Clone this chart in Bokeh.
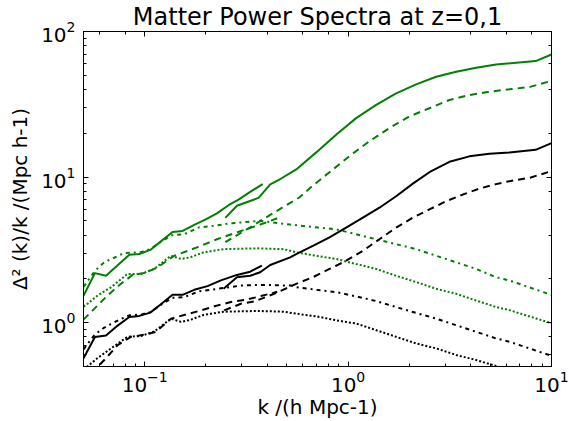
from bokeh.plotting import figure
from bokeh.models import Range1d, LogAxis, CustomJSTickFormatter, LogTicker, Title
from bokeh.embed import file_html
from bokeh.resources import INLINE

# ---------------- data ----------------
# z = 0 (green)
k_g_solid_a = [0.05, 0.0569, 0.0645, 0.084, 0.094, 0.1065, 0.1192, 0.137, 0.1535, 0.1772, 0.1984, 0.2265, 0.2582, 0.2892, 0.330, 0.380]
v_g_solid_a = [1.53, 2.19, 2.10, 2.93, 2.96, 3.16, 3.59, 4.20, 4.27, 4.74, 5.10, 5.63, 6.41, 7.01, 7.92, 8.95]

k_g_solid_b = [0.249, 0.284, 0.363, 0.414, 0.464, 0.556, 0.697, 0.873, 1.095, 1.374, 1.722, 2.16, 2.71, 3.40, 4.26, 5.34, 8.36, 10.0]
v_g_solid_b = [5.25, 6.35, 7.20, 8.92, 9.70, 11.28, 14.78, 19.55, 25.41, 31.31, 37.61, 43.32, 48.89, 52.88, 56.3, 59.3, 62.6, 69.5]

k_g_dash_a = [0.05, 0.0657, 0.0764, 0.0872, 0.1006, 0.1156, 0.1397, 0.1805, 0.2265, 0.2948, 0.3625, 0.448]
v_g_dash_a = [1.05, 1.54, 1.85, 2.13, 2.20, 2.40, 2.88, 3.29, 3.74, 4.25, 4.67, 5.21]

k_g_dash_b = [0.249, 0.330, 0.414, 0.575, 0.671, 0.810, 1.015, 1.273, 1.597, 2.002, 2.510, 3.148, 3.948, 4.951, 6.207, 7.845, 10.0]
v_g_dash_b = [3.57, 4.52, 5.50, 7.24, 8.74, 10.80, 13.93, 17.63, 21.72, 26.10, 29.72, 33.86, 36.62, 38.63, 40.05, 41.65, 45.8]

k_g_dot = [0.05, 0.0524, 0.0587, 0.0683, 0.0823, 0.0959, 0.1114, 0.1346, 0.1507, 0.1674, 0.1946, 0.2440, 0.3560, 0.4811, 0.5555, 0.6966, 0.8733, 1.095, 1.374, 1.722, 2.160, 2.709, 3.396, 4.258, 5.341, 6.207, 10.0]
v_g_dot = [1.29, 1.35, 1.54, 1.75, 2.16, 2.16, 2.34, 2.88, 2.74, 2.81, 3.04, 3.20, 3.24, 3.20, 3.04, 2.88, 2.74, 2.53, 2.34, 2.10, 1.90, 1.71, 1.58, 1.42, 1.28, 1.22, 0.99]

k_g_dashdot = [0.05, 0.0569, 0.0633, 0.0793, 0.0959, 0.1065, 0.1192, 0.1366, 0.1564, 0.1854, 0.2099, 0.2633, 0.3695, 0.519, 0.7125, 0.8733, 1.095, 1.374, 1.722, 2.160, 2.709, 3.396, 4.258, 5.341, 6.207, 10.0]
v_g_dashdot = [1.76, 2.27, 2.60, 3.01, 3.05, 3.20, 3.57, 3.99, 4.05, 4.52, 4.59, 4.81, 5.01, 4.72, 4.50, 4.38, 4.05, 3.74, 3.46, 3.20, 2.88, 2.60, 2.34, 2.05, 1.95, 1.55]

# z = 1 (black)
k_k_solid_a = [0.05, 0.0569, 0.0645, 0.0736, 0.084, 0.094, 0.1065, 0.1192, 0.137, 0.1535, 0.1751, 0.2036, 0.2369, 0.284, 0.330, 0.3767]
v_k_solid_a = [0.569, 0.798, 0.817, 0.955, 1.095, 1.113, 1.172, 1.328, 1.554, 1.554, 1.681, 1.782, 1.951, 2.128, 2.240, 2.462]

k_k_solid_b = [0.244, 0.284, 0.330, 0.3695, 0.414, 0.519, 0.5555, 0.671, 0.810, 0.978, 1.182, 1.426, 1.722, 2.081, 2.510, 3.148, 3.948, 4.951, 6.207, 8.356, 10.0]
v_k_solid_b = [1.71, 2.05, 2.10, 2.22, 2.49, 2.81, 2.96, 3.37, 3.85, 4.50, 5.26, 6.16, 7.39, 9.02, 10.80, 12.74, 13.88, 14.44, 14.78, 15.38, 17.1]

k_k_dash_a = [0.05, 0.0657, 0.0736, 0.0856, 0.1014, 0.1136, 0.1346, 0.1656, 0.1890, 0.2280, 0.2653, 0.3201, 0.3725, 0.448]
v_k_dash_a = [0.391, 0.587, 0.701, 0.800, 0.830, 0.866, 1.066, 1.153, 1.215, 1.314, 1.386, 1.444, 1.523, 1.629]

k_k_dash_b = [0.2459, 0.2972, 0.3453, 0.4330, 0.5555, 0.6710, 0.8098, 0.9781, 1.1815, 1.4256, 1.7223, 2.0806, 2.5101, 3.0324, 3.6644, 4.4197, 5.3408, 6.2073, 7.845, 10.0]
v_k_dash_b = [1.215, 1.349, 1.399, 1.579, 1.847, 2.052, 2.338, 2.664, 3.115, 3.744, 4.498, 5.263, 5.995, 6.830, 7.586, 8.333, 8.946, 9.376, 9.906, 11.0]

k_k_dashdot = [0.05, 0.0569, 0.0633, 0.0736, 0.0840, 0.0959, 0.1065, 0.1192, 0.1366, 0.1564, 0.1854, 0.2280, 0.2972, 0.3725, 0.5232, 0.5555, 0.6966, 0.8733, 1.095, 1.374, 1.722, 2.160, 2.709, 3.396, 4.258, 5.341, 6.207, 10.0]
v_k_dashdot = [0.656, 0.830, 0.926, 1.034, 1.123, 1.136, 1.181, 1.318, 1.483, 1.499, 1.642, 1.708, 1.798, 1.818, 1.798, 1.754, 1.681, 1.622, 1.514, 1.408, 1.281, 1.166, 1.066, 0.960, 0.866, 0.779, 0.740, 0.592]

k_k_dot = [0.05, 0.0524, 0.0587, 0.0683, 0.0823, 0.0959, 0.1114, 0.1346, 0.1507, 0.1674, 0.1946, 0.2440, 0.3560, 0.4811, 0.5555, 0.6966, 0.8733, 1.095, 1.374, 1.722, 2.160, 2.709, 3.396, 4.258, 5.341, 6.207, 10.0]
v_k_dot = [0.479, 0.502, 0.572, 0.666, 0.800, 0.810, 0.870, 1.066, 1.013, 1.045, 1.130, 1.190, 1.203, 1.190, 1.153, 1.106, 1.038, 0.986, 0.888, 0.800, 0.720, 0.666, 0.600, 0.554, 0.504, 0.474, 0.367]

title_text = "Matter Power Spectra at z=0,1"
x_label = "k /(h Mpc-1)"
y_label = "\u0394\u00b2 (k)/k /(Mpc h-1)"

# ---------------- styling ----------------
GREEN = "#008000"
BLACK = "#000000"
LW = 2
DASH = "7 5"
DOT = "2 2"
DASHDOT = "4 4 2 4"
FONT = "DejaVu Sans"

p = figure(width=569, height=421, x_axis_type="log", y_axis_type="log",
           x_range=Range1d(0.05, 10), y_range=Range1d(0.5, 100),
           output_backend="svg", toolbar_location=None,
           min_border_left=83, min_border_right=18, min_border_top=31, min_border_bottom=53,
           background_fill_color="white", border_fill_color="white")

p.xgrid.visible = False
p.ygrid.visible = False
p.outline_line_color = "black"
p.outline_line_width = 1

series = [
    (k_g_solid_a, v_g_solid_a, GREEN, "solid"),
    (k_g_solid_b, v_g_solid_b, GREEN, "solid"),
    (k_g_dash_a, v_g_dash_a, GREEN, DASH),
    (k_g_dash_b, v_g_dash_b, GREEN, DASH),
    (k_g_dot, v_g_dot, GREEN, DOT),
    (k_g_dashdot, v_g_dashdot, GREEN, DASHDOT),
    (k_k_solid_a, v_k_solid_a, BLACK, "solid"),
    (k_k_solid_b, v_k_solid_b, BLACK, "solid"),
    (k_k_dash_a, v_k_dash_a, BLACK, DASH),
    (k_k_dash_b, v_k_dash_b, BLACK, DASH),
    (k_k_dot, v_k_dot, BLACK, DOT),
    (k_k_dashdot, v_k_dashdot, BLACK, DASHDOT),
]
for xs, ys, col, dash in series:
    p.line(xs, ys, line_color=col, line_width=LW, line_dash=dash)

def style_axis(ax):
    ax.axis_line_color = "black"
    ax.axis_line_width = 1
    ax.major_tick_in = 5
    ax.major_tick_out = 0
    ax.minor_tick_in = 3
    ax.minor_tick_out = 0
    ax.major_tick_line_color = "black"
    ax.minor_tick_line_color = "black"
    ax.major_label_text_font = FONT
    ax.major_label_text_font_size = "20px"
    ax.major_label_text_color = "black"
    ax.axis_label_text_font = FONT
    ax.axis_label_text_font_size = "20px"
    ax.axis_label_text_font_style = "normal"
    ax.axis_label_text_color = "black"

for ax in p.xaxis:
    style_axis(ax)
    ax.axis_label = x_label
    ax.major_label_standoff = 4
    ax.axis_label_standoff = 0
for ax in p.yaxis:
    style_axis(ax)
    ax.axis_label = y_label
    ax.major_label_standoff = 8
    ax.axis_label_standoff = 6

top = LogAxis(ticker=LogTicker(), formatter=CustomJSTickFormatter(code="return ''"))
right = LogAxis(ticker=LogTicker(), formatter=CustomJSTickFormatter(code="return ''"))
for ax in (top, right):
    style_axis(ax)
    ax.major_label_standoff = 0
p.add_layout(top, "above")
p.add_layout(right, "right")

p.title = Title(text=title_text, align="center", text_font=FONT, text_font_size="24px",
                text_font_style="normal", text_color="black", standoff=1)

open("out.html", "w").write(file_html(p, INLINE))
